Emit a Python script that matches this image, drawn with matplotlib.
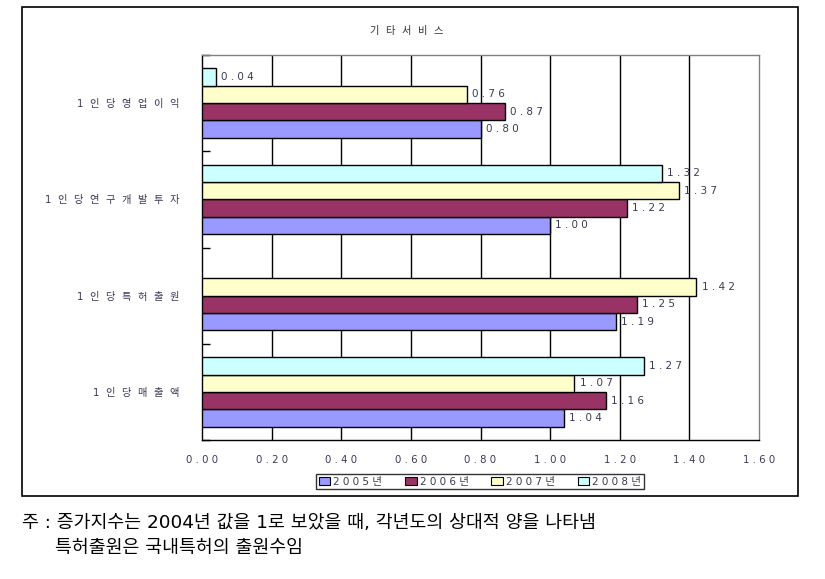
import numpy as np
import matplotlib
matplotlib.use("Agg")
from matplotlib import pyplot as plt
from matplotlib.patches import Rectangle

plt.rcParams['font.family'] = ['DejaVu Sans', 'Noto Sans CJK KR']

# data (bottom to top)
categories = ["1인당매출액", "1인당특허출원", "1인당연구개발투자", "1인당영업이익"]
years = ["2005년", "2006년", "2007년", "2008년"]
v2005 = [1.04, 1.19, 1.00, 0.80]
v2006 = [1.16, 1.25, 1.22, 0.87]
v2007 = [1.07, 1.42, 1.37, 0.76]
v2008 = [1.27, None, 1.32, 0.04]
xticks = [0.0, 0.2, 0.4, 0.6, 0.8, 1.0, 1.2, 1.4, 1.6]
title = "기타서비스"
note1 = "주 : 증가지수는 2004년 값을 1로 보았을 때, 각년도의 상대적 양을 나타냄"
note2 = "특허출원은 국내특허의 출원수임"

colors = ["#9999FF", "#993366", "#FFFFCC", "#CCFFFF"]
txtc = "#3a3a55"


def sp(s, gap=" "):
    return gap.join(list(s))


fig = plt.figure(figsize=(8.25, 5.79), dpi=100)

# outer frame
fig.patches.append(Rectangle((22/825, 1-496/579), 776/825, 489/579,
                             transform=fig.transFigure, fill=False,
                             edgecolor="black", linewidth=1.2))

ax = fig.add_axes([202/825, 1-440/579, 557/825, 385/579])

y = np.arange(len(categories))
h = 0.18
offs = [-1.5*h, -0.5*h, 0.5*h, 1.5*h]
series = [v2005, v2006, v2007, v2008]

for k, vals in enumerate(series):
    for i, v in enumerate(vals):
        if v is None:
            continue
        ax.barh(y[i]+offs[k], v, height=h, color=colors[k],
                edgecolor="black", linewidth=1, zorder=3)
        ax.text(v+0.015, y[i]+offs[k], sp("%.2f" % v), va="center",
                ha="left", fontsize=7.5, color=txtc, zorder=4)

ax.set_xlim(0, 1.6)
ax.set_ylim(-0.5, 3.5)
ax.set_xticks(xticks)
ax.set_xticklabels([sp("%.2f" % t) for t in xticks], fontsize=7.3, color=txtc)
ax.tick_params(axis="x", length=0, pad=11)
for t in xticks[1:-1]:
    ax.axvline(t, color="black", linewidth=1, zorder=1)

ax.set_yticks(y)
ax.set_yticklabels([sp(c, "  ") for c in categories], fontsize=7.4, color=txtc)
ax.tick_params(axis="y", length=0, pad=16)
ax.set_yticks(np.arange(-0.5, 4, 1), minor=True)
ax.tick_params(axis="y", which="minor", direction="in", length=6,
               width=1, color="black")

ax.spines["top"].set_color("gray")
ax.spines["right"].set_color("gray")
ax.spines["left"].set_color("black")
ax.spines["bottom"].set_color("black")
for s in ax.spines.values():
    s.set_linewidth(1)

fig.text(407/825, 1-31/579, sp(title, "  "), ha="center", va="center",
         fontsize=7.4, color="#333333")

handles = [Rectangle((0, 0), 1, 1, facecolor=colors[k], edgecolor="black",
                     linewidth=0.8) for k in range(4)]
leg = fig.legend(handles, [sp(yr) for yr in years], loc="center",
                 bbox_to_anchor=(480/825, 1-481.5/579), ncol=4,
                 fontsize=7.5, frameon=True, fancybox=False,
                 handlelength=1.1, handleheight=0.7, handletextpad=0.3,
                 columnspacing=2.2, borderpad=0.25, labelcolor=txtc)
leg.get_frame().set_edgecolor("black")
leg.get_frame().set_linewidth(1)

fig.text(22/825, 1-523/579, note1, ha="left", va="center", fontsize=13.2)
fig.text(55/825, 1-548/579, note2, ha="left", va="center", fontsize=13.2)

fig.savefig("out.png", dpi=100)
